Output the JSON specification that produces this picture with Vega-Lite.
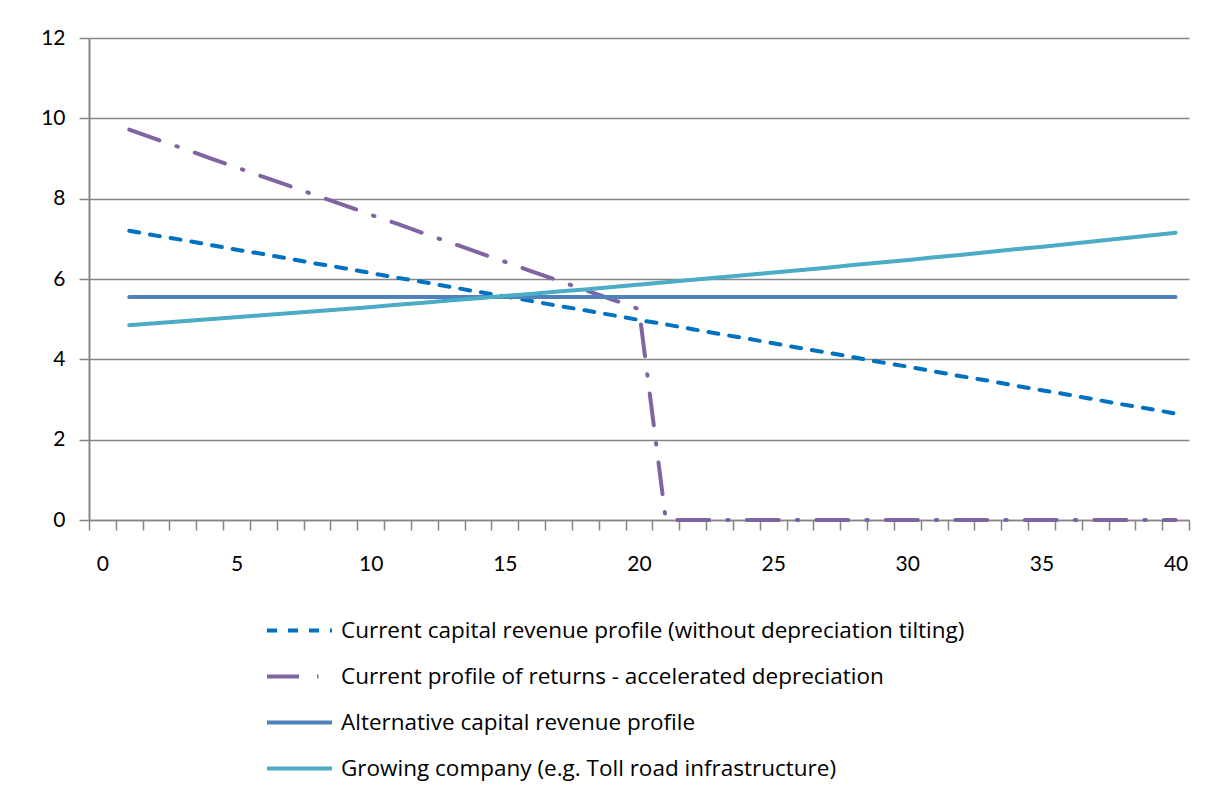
{
  "$schema": "https://vega.github.io/schema/vega-lite/v6.json",
  "autosize": "none",
  "padding": {"left": 89, "top": 38, "right": 16, "bottom": 276},
  "width": 1100,
  "height": 482,
  "background": "white",
  "config": {
    "font": "Lato",
    "view": {"stroke": null},
    "axis": {"labelColor": "#000000", "labelFont": "Lato", "labelFontSize": 21, "titleFontSize": 0}
  },
  "data": {
    "values": [
      {"year": 1, "a": 7.20, "b": 9.72, "c": 5.55, "d": 4.85},
      {"year": 2, "a": 7.08, "b": 9.48, "c": 5.55, "d": 4.90},
      {"year": 3, "a": 6.97, "b": 9.25, "c": 5.55, "d": 4.95},
      {"year": 4, "a": 6.85, "b": 9.01, "c": 5.55, "d": 5.00},
      {"year": 5, "a": 6.73, "b": 8.78, "c": 5.55, "d": 5.05},
      {"year": 6, "a": 6.62, "b": 8.54, "c": 5.55, "d": 5.10},
      {"year": 7, "a": 6.50, "b": 8.31, "c": 5.55, "d": 5.15},
      {"year": 8, "a": 6.38, "b": 8.07, "c": 5.55, "d": 5.20},
      {"year": 9, "a": 6.27, "b": 7.84, "c": 5.55, "d": 5.25},
      {"year": 10, "a": 6.15, "b": 7.60, "c": 5.55, "d": 5.30},
      {"year": 11, "a": 6.03, "b": 7.37, "c": 5.55, "d": 5.36},
      {"year": 12, "a": 5.92, "b": 7.13, "c": 5.55, "d": 5.41},
      {"year": 13, "a": 5.80, "b": 6.90, "c": 5.55, "d": 5.47},
      {"year": 14, "a": 5.68, "b": 6.66, "c": 5.55, "d": 5.52},
      {"year": 15, "a": 5.57, "b": 6.43, "c": 5.55, "d": 5.58},
      {"year": 16, "a": 5.45, "b": 6.19, "c": 5.55, "d": 5.63},
      {"year": 17, "a": 5.33, "b": 5.96, "c": 5.55, "d": 5.69},
      {"year": 18, "a": 5.22, "b": 5.72, "c": 5.55, "d": 5.74},
      {"year": 19, "a": 5.10, "b": 5.49, "c": 5.55, "d": 5.80},
      {"year": 20, "a": 4.98, "b": 5.25, "c": 5.55, "d": 5.86},
      {"year": 21, "a": 4.87, "b": 0, "c": 5.55, "d": 5.92},
      {"year": 22, "a": 4.75, "b": 0, "c": 5.55, "d": 5.98},
      {"year": 23, "a": 4.63, "b": 0, "c": 5.55, "d": 6.04},
      {"year": 24, "a": 4.52, "b": 0, "c": 5.55, "d": 6.10},
      {"year": 25, "a": 4.40, "b": 0, "c": 5.55, "d": 6.16},
      {"year": 26, "a": 4.28, "b": 0, "c": 5.55, "d": 6.22},
      {"year": 27, "a": 4.17, "b": 0, "c": 5.55, "d": 6.28},
      {"year": 28, "a": 4.05, "b": 0, "c": 5.55, "d": 6.35},
      {"year": 29, "a": 3.93, "b": 0, "c": 5.55, "d": 6.41},
      {"year": 30, "a": 3.82, "b": 0, "c": 5.55, "d": 6.47},
      {"year": 31, "a": 3.70, "b": 0, "c": 5.55, "d": 6.54},
      {"year": 32, "a": 3.58, "b": 0, "c": 5.55, "d": 6.60},
      {"year": 33, "a": 3.47, "b": 0, "c": 5.55, "d": 6.67},
      {"year": 34, "a": 3.35, "b": 0, "c": 5.55, "d": 6.74},
      {"year": 35, "a": 3.23, "b": 0, "c": 5.55, "d": 6.80},
      {"year": 36, "a": 3.12, "b": 0, "c": 5.55, "d": 6.87},
      {"year": 37, "a": 3.00, "b": 0, "c": 5.55, "d": 6.94},
      {"year": 38, "a": 2.88, "b": 0, "c": 5.55, "d": 7.01},
      {"year": 39, "a": 2.77, "b": 0, "c": 5.55, "d": 7.08},
      {"year": 40, "a": 2.65, "b": 0, "c": 5.55, "d": 7.15}
    ]
  },
  "transform": [
    {"fold": ["a", "b", "c", "d"], "as": ["key", "value"]},
    {"lookup": "key", "from": {"data": {"values": [
      {"key": "a", "series": "Current capital revenue profile (without depreciation tilting)"},
      {"key": "b", "series": "Current profile of returns - accelerated depreciation"},
      {"key": "c", "series": "Alternative capital revenue profile"},
      {"key": "d", "series": "Growing company (e.g. Toll road infrastructure)"}
    ]}, "key": "key", "fields": ["series"]}}
  ],
  "mark": {"type": "line", "strokeWidth": 4, "strokeCap": "round", "strokeJoin": "round"},
  "encoding": {
    "x": {
      "field": "year",
      "type": "quantitative",
      "scale": {"domain": [-0.5, 40.5], "nice": false, "zero": false},
      "axis": {
        "title": null,
        "grid": false,
        "values": [-0.5, 0, 0.5, 1.5, 2.5, 3.5, 4.5, 5, 5.5, 6.5, 7.5, 8.5, 9.5, 10, 10.5, 11.5, 12.5, 13.5, 14.5, 15, 15.5, 16.5, 17.5, 18.5, 19.5, 20, 20.5, 21.5, 22.5, 23.5, 24.5, 25, 25.5, 26.5, 27.5, 28.5, 29.5, 30, 30.5, 31.5, 32.5, 33.5, 34.5, 35, 35.5, 36.5, 37.5, 38.5, 39.5, 40, 40.5],
        "labelExpr": "datum.value % 5 === 0 ? datum.label : ''",
        "labelOverlap": false,
        "labelFlush": false,
        "labelPadding": 23,
        "tickSize": 10,
        "tickColor": "#868686",
        "tickWidth": 1.5,
        "tickOpacity": {"condition": {"test": "datum.value % 1 === 0", "value": 0}, "value": 1},
        "domainColor": "#868686",
        "domainWidth": 1.5
      }
    },
    "y": {
      "field": "value",
      "type": "quantitative",
      "scale": {"domain": [0, 12], "nice": false},
      "axis": {
        "title": null,
        "values": [0, 2, 4, 6, 8, 10, 12],
        "grid": true,
        "gridColor": "#868686",
        "gridWidth": 1.5,
        "tickSize": 10,
        "tickColor": "#868686",
        "tickWidth": 1.5,
        "domainColor": "#868686",
        "domainWidth": 2,
        "labelPadding": 14
      }
    },
    "color": {
      "field": "series",
      "type": "nominal",
      "sort": null,
      "scale": {
        "domain": [
          "Current capital revenue profile (without depreciation tilting)",
          "Current profile of returns - accelerated depreciation",
          "Alternative capital revenue profile",
          "Growing company (e.g. Toll road infrastructure)"
        ],
        "range": ["#0070C0", "#8064A2", "#4F81BD", "#4BACC6"]
      },
      "legend": {
        "title": null,
        "orient": "none",
        "legendX": 176,
        "legendY": 558,
        "direction": "vertical",
        "padding": 0,
        "symbolType": "stroke",
        "symbolSize": 4225,
        "symbolStrokeWidth": 4,
        "labelFont": "Open Sans",
        "labelFontSize": 22.5,
        "labelColor": "#000000",
        "labelOffset": 7,
        "labelLimit": 900,
        "rowPadding": -19
      }
    },
    "strokeDash": {
      "field": "series",
      "type": "nominal",
      "sort": null,
      "scale": {
        "domain": [
          "Current capital revenue profile (without depreciation tilting)",
          "Current profile of returns - accelerated depreciation",
          "Alternative capital revenue profile",
          "Growing company (e.g. Toll road infrastructure)"
        ],
        "range": [[10, 11], [32, 18, 1.5, 18], [1, 0], [1, 0]]
      },
      "legend": {
        "title": null,
        "orient": "none",
        "legendX": 176,
        "legendY": 558,
        "direction": "vertical",
        "padding": 0,
        "symbolType": "stroke",
        "symbolSize": 4225,
        "symbolStrokeWidth": 4,
        "labelFont": "Open Sans",
        "labelFontSize": 22.5,
        "labelColor": "#000000",
        "labelOffset": 7,
        "labelLimit": 900,
        "rowPadding": -19
      }
    }
  }
}
